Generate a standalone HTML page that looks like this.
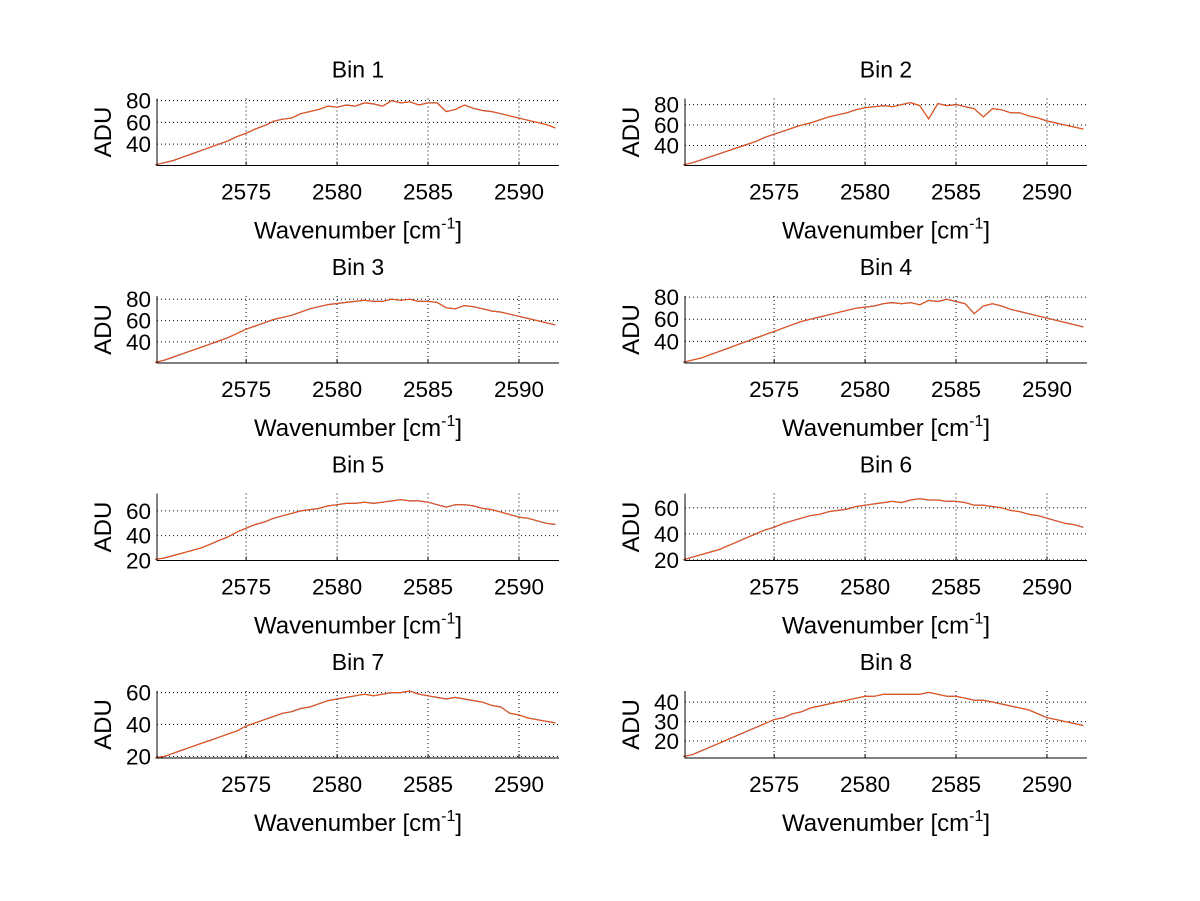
<!DOCTYPE html>
<html><head><meta charset="utf-8">
<style>
html,body{margin:0;padding:0;background:#fff;}
svg{display:block;font-family:"Liberation Sans",sans-serif;}
</style></head>
<body>
<svg id="fig" width="1200" height="901" viewBox="0 0 1200 901" xmlns="http://www.w3.org/2000/svg"></svg>
<script>
const xStart = 2570, xStep = 0.5;
const xTicks = [2575, 2580, 2585, 2590];
const xRange = [2570.1, 2592.2];
const titles = ["Bin 1","Bin 2","Bin 3","Bin 4","Bin 5","Bin 6","Bin 7","Bin 8"];
const yRanges = [[20.4,82],[20.4,86],[20.4,83],[20.4,81],[20,74],[19.5,71],[19,61],[11.3,45.7]];
const yTicks = [[40,60,80],[40,60,80],[40,60,80],[40,60,80],[20,40,60],[20,40,60],[20,40,60],[20,30,40]];
const bin1 = [21,23,25,28,31,34,37,40,43,47,50,54,57,61,63,64,68,70,72,75,74,76,75,78,77,75,80,78,79,76,78,78,70,72,76,73,71,70,68,66,64,62,60,58,55];
const bin2 = [21,23,26,29,32,35,38,41,44,48,51,54,57,60,62,65,68,70,72,75,77,78,79,78,80,82,79,66,81,79,80,78,76,68,76,75,72,72,69,67,64,62,60,58,56];
const bin3 = [21,23,26,29,32,35,38,41,44,48,52,55,58,61,63,65,68,71,73,75,76,77,78,79,78,78,80,79,80,78,78,77,72,71,74,73,71,69,68,66,64,62,60,58,56];
const bin4 = [21,23,25,28,31,34,37,40,43,46,49,52,55,58,60,62,64,66,68,70,71,72,74,75,74,75,73,77,76,78,76,74,65,72,74,72,69,67,65,63,61,59,57,55,53];
const bin5 = [21,22,24,26,28,30,33,36,39,43,46,49,51,54,56,58,60,61,62,64,65,66,66,67,66,67,68,69,68,68,67,65,63,65,65,64,62,61,59,57,55,54,52,50,49];
const bin6 = [20,22,24,26,28,31,34,37,40,43,45,48,50,52,54,55,57,58,59,61,62,63,64,65,64,66,67,66,66,65,65,64,62,62,61,60,58,57,55,54,52,50,48,47,45];
const bin7 = [19,20,22,24,26,28,30,32,34,36,39,41,43,45,47,48,50,51,53,55,56,57,58,59,58,59,60,60,61,59,58,57,56,57,56,55,54,52,51,47,46,44,43,42,41];
const bin8 = [12,13,15,17,19,21,23,25,27,29,31,32,34,35,37,38,39,40,41,42,43,43,44,44,44,44,44,45,44,43,43,42,41,41,40,39,38,37,36,34,32,31,30,29,28];
const seriesAll = [bin1,bin2,bin3,bin4,bin5,bin6,bin7,bin8];

const NS = "http://www.w3.org/2000/svg";
const fig = document.getElementById('fig');
const colsX = [[157,559],[685,1087]];
const rowTop = [98.5,296,493.5,691];
const plotH = 67;
function mk(tag, attrs, parent){const e=document.createElementNS(NS,tag);for(const k in attrs)e.setAttribute(k,attrs[k]);parent.appendChild(e);return e;}

for(let i=0;i<8;i++){
  const [x0,x1]=colsX[i%2];
  const top=rowTop[Math.floor(i/2)], bot=top+plotH;
  const [y0,y1]=yRanges[i];
  const sx=v=>x0+(v-xRange[0])/(xRange[1]-xRange[0])*(x1-x0);
  const sy=v=>bot-(v-y0)/(y1-y0)*(bot-top);
  const g=mk('g',{},fig);
  
  
  xTicks.forEach(t=>{
    const l=mk('line',{x1:sx(t),x2:sx(t),y1:top,y2:bot,stroke:'#000','stroke-width':1,'stroke-dasharray':'1,3'},g);
    
    
    const tk=mk('line',{x1:sx(t),x2:sx(t),y1:bot,y2:bot-4,stroke:'#000'},g);
    
    
    const tx=mk('text',{x:sx(t),y:bot+34,'text-anchor':'middle','font-size':22.5},g);
    tx.textContent=t;
    
    
  });
  yTicks[i].forEach(t=>{
    const l=mk('line',{x1:x0,x2:x1,y1:sy(t),y2:sy(t),stroke:'#000','stroke-width':1,'stroke-dasharray':'1,3'},g);
    
    
    const tx=mk('text',{x:x0-6,y:sy(t)+8,'text-anchor':'end','font-size':22.5},g);
    tx.textContent=t;
    
    
  });
  const data=seriesAll[i];
  const pts=data.map((v,k)=>sx(xStart+k*xStep).toFixed(1)+','+sy(v).toFixed(1)).join(' ');
  const b=mk('polyline',{points:pts,fill:'none',stroke:'#2a1f9a','stroke-width':1.2},g);
  
  
  const o=mk('polyline',{points:pts,fill:'none',stroke:'#ff5a00','stroke-width':1},g);
  
  
  const ax=mk('path',{d:`M${x0},${top} V${bot} H${x1}`,fill:'none',stroke:'#000','stroke-width':1},g);
  
  
  const title=mk('text',{x:(x0+x1)/2,y:top-21,'text-anchor':'middle','font-size':23},g);
  title.textContent=titles[i];
  
  
  const yl=mk('text',{x:0,y:0,'text-anchor':'middle','font-size':24,transform:`translate(${x0-46},${(top+bot)/2}) rotate(-90)`},g);
  yl.textContent='ADU';
  
  
  const xl=mk('text',{x:(x0+x1)/2,y:bot+73,'text-anchor':'middle','font-size':24},g);
  xl.innerHTML='Wavenumber [cm<tspan dy="-10" font-size="16">-1</tspan><tspan dy="10">]</tspan>';
  
  
}
</script>
</body></html>
